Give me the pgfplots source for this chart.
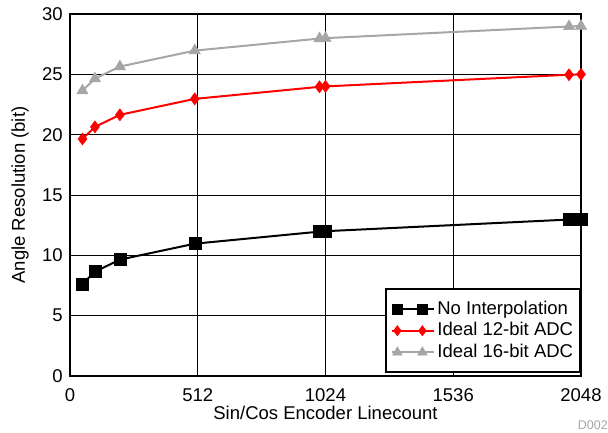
\documentclass[border=0pt]{standalone}
\usepackage{fontspec}
\setmainfont{Liberation Sans}
\usepackage{pgfplots}
\pgfplotsset{compat=1.18}
\definecolor{lgray}{RGB}{166,166,166}
\begin{document}
\fontsize{18.5}{22}\selectfont
\begin{tikzpicture}
\begin{axis}[
  at={(0,0)}, anchor=south west,
  scale only axis,
  width=511pt, height=362pt,
  xmin=0, xmax=2048, ymin=0, ymax=30,
  xtick={0,512,1024,1536,2048},
  ytick={0,5,...,30},
  grid=major,
  major grid style={black, line width=0.8pt},
  axis line style={black, line width=2.2pt},
  tick style={draw=none},
  /pgf/number format/assume math mode=true,
  /pgf/number format/set thousands separator={},
  ticklabel style={font=\fontsize{18.5}{22}\selectfont},
  xticklabel style={yshift=-6pt},
  yticklabel style={xshift=-1pt},
  label style={font=\fontsize{18.5}{22}\selectfont},
  xlabel={Sin/Cos Encoder Linecount},
  ylabel={Angle Resolution (bit)},
  xlabel style={at={(axis description cs:0.5,-0.1188)}, anchor=base},
  ylabel style={at={(axis description cs:-0.0978,0.5)}, anchor=center},
  legend style={at={(1,0)}, anchor=south east, xshift=0pt, yshift=3pt,
    draw=black, line width=1.8pt, font=\fontsize{18.5}{22}\selectfont,
    inner xsep=5pt, inner ysep=9pt, row sep=0pt,
    nodes={inner sep=2pt, text height=0.75em, text depth=0.2em},
    cells={anchor=west}},
  legend image code/.code={%
    \draw[#1, every mark/.append style={scale=0.85}] plot coordinates {(0pt,0pt) (25pt,0pt)};
    \path (-5pt,0pt) -- (37pt,0pt);},
  clip=false,
]
\addplot[black, line width=2pt, mark=square*, mark size=6pt, mark options={solid, line width=0.5pt}]
 coordinates {(50,7.644)(100,8.644)(200,9.644)(500,10.966)(1000,11.966)(1024,12)(2000,12.966)(2048,13)};
\addlegendentry{No Interpolation}
\addplot[red, line width=2pt, mark=diamond*, mark size=6pt, mark options={solid, line width=0.5pt}]
 coordinates {(50,19.644)(100,20.644)(200,21.644)(500,22.966)(1000,23.966)(1024,24)(2000,24.966)(2048,25)};
\addlegendentry{Ideal 12-bit ADC}
\addplot[lgray, line width=2pt, mark=triangle*, mark size=6.5pt, mark options={solid, line width=0.5pt}]
 coordinates {(50,23.644)(100,24.644)(200,25.644)(500,26.966)(1000,27.966)(1024,28)(2000,28.966)(2048,29)};
\addlegendentry{Ideal 16-bit ADC}
\end{axis}
\node[anchor=south east, text=lgray, font=\fontsize{12.5}{14}\selectfont, inner sep=0pt]
  at (538pt,-54pt) {D002};
\pgfresetboundingbox
\path (-70pt,-56pt) rectangle (538pt,376pt);
\end{tikzpicture}
\end{document}
